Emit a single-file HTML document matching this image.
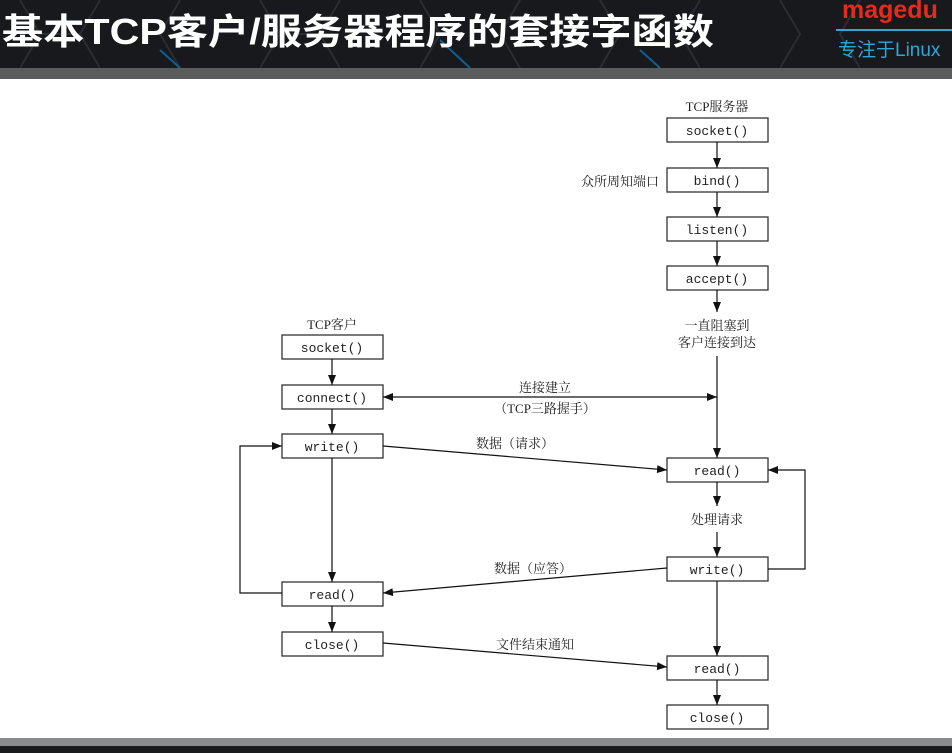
<!DOCTYPE html>
<html><head><meta charset="utf-8"><style>
html,body{margin:0;padding:0;width:952px;height:753px;overflow:hidden;background:#fff}
svg{display:block}
.m{font-family:"Liberation Mono",monospace;font-size:13px;fill:#222}
.c{font-family:"Liberation Serif","Noto Serif CJK SC",serif;font-size:13px;fill:#222}
</style></head><body>
<svg width="952" height="753" viewBox="0 0 952 753" xmlns="http://www.w3.org/2000/svg">
<defs>
<marker id="a" viewBox="0 0 10 10" refX="10" refY="5" markerWidth="10" markerHeight="10" markerUnits="userSpaceOnUse" orient="auto"><path d="M0,1 L10,5 L0,9 z" fill="#111"/></marker>
</defs>
<rect x="0" y="0" width="952" height="68" fill="#17191c"/>
<g stroke="#2a2d31" stroke-width="2" fill="none">
<path d="M20,0 L40,34 L20,68 M100,0 L80,34 L100,68 M40,34 L80,34 M180,0 L160,34 L180,68 M260,0 L280,34 L260,68 M280,34 L320,34 M340,0 L320,34 L340,68 M420,0 L440,34 L420,68 M520,0 L500,34 L520,68 M600,0 L620,34 L600,68 M700,0 L680,34 L700,68 M780,0 L800,34 L780,68 M860,0 L840,34 L860,68"/>
</g>
<g stroke="#0f5f8f" stroke-width="2" fill="none"><path d="M160,50 L180,68 M440,40 L470,68 M640,50 L660,68"/></g>
<text x="2" y="44" textLength="712" lengthAdjust="spacingAndGlyphs" font-family="'Liberation Sans','Noto Sans CJK SC',sans-serif" font-weight="bold" font-size="36" fill="#fff">基本TCP客户/服务器程序的套接字函数</text>
<text x="842" y="18" font-family="'Liberation Sans',sans-serif" font-weight="bold" font-size="25" fill="#e52a1e">magedu</text>
<rect x="836" y="29" width="116" height="2" fill="#2fa6d8"/>
<text x="838" y="56" font-family="'Liberation Sans','Noto Sans CJK SC',sans-serif" font-size="19" fill="#2fa6d8">专注于Linux</text>
<rect x="0" y="68" width="952" height="11" fill="#5a5b5d"/>
<rect x="0" y="738" width="952" height="8" fill="#8a8b8d"/>
<rect x="0" y="746" width="952" height="7" fill="#1a1b1d"/>
<g fill="#fff" stroke="#333" stroke-width="1.3">
<rect x="667" y="118" width="101" height="24"/>
<rect x="667" y="168" width="101" height="24"/>
<rect x="667" y="217" width="101" height="24"/>
<rect x="667" y="266" width="101" height="24"/>
<rect x="667" y="458" width="101" height="24"/>
<rect x="667" y="557" width="101" height="24"/>
<rect x="667" y="656" width="101" height="24"/>
<rect x="667" y="705" width="101" height="24"/>
<rect x="282" y="335" width="101" height="24"/>
<rect x="282" y="385" width="101" height="24"/>
<rect x="282" y="434" width="101" height="24"/>
<rect x="282" y="582" width="101" height="24"/>
<rect x="282" y="632" width="101" height="24"/>
</g>
<g class="m" text-anchor="middle">
<text x="717" y="135">socket()</text>
<text x="717" y="185">bind()</text>
<text x="717" y="234">listen()</text>
<text x="717" y="283">accept()</text>
<text x="717" y="475">read()</text>
<text x="717" y="574">write()</text>
<text x="717" y="673">read()</text>
<text x="717" y="722">close()</text>
<text x="332" y="352">socket()</text>
<text x="332" y="402">connect()</text>
<text x="332" y="451">write()</text>
<text x="332" y="599">read()</text>
<text x="332" y="649">close()</text>
</g>
<g class="c" text-anchor="middle">
<text x="717" y="111">TCP服务器</text>
<text x="620" y="186">众所周知端口</text>
<text x="717" y="330">一直阻塞到</text>
<text x="717" y="347">客户连接到达</text>
<text x="717" y="524">处理请求</text>
<text x="332" y="329">TCP客户</text>
<text x="545" y="392">连接建立</text>
<text x="545" y="413">（TCP三路握手）</text>
<text x="515" y="448">数据（请求）</text>
<text x="533" y="573">数据（应答）</text>
<text x="535" y="649">文件结束通知</text>
</g>
<g stroke="#111" stroke-width="1.2" fill="none" marker-end="url(#a)">
<line x1="717" y1="142" x2="717" y2="168"/>
<line x1="717" y1="192" x2="717" y2="217"/>
<line x1="717" y1="241" x2="717" y2="266"/>
<line x1="717" y1="290" x2="717" y2="312"/>
<line x1="717" y1="356" x2="717" y2="458"/>
<line x1="717" y1="482" x2="717" y2="506"/>
<line x1="717" y1="532" x2="717" y2="557"/>
<line x1="717" y1="581" x2="717" y2="656"/>
<line x1="717" y1="680" x2="717" y2="705"/>
<line x1="332" y1="359" x2="332" y2="385"/>
<line x1="332" y1="409" x2="332" y2="434"/>
<line x1="332" y1="458" x2="332" y2="582"/>
<line x1="332" y1="606" x2="332" y2="632"/>
<line x1="500" y1="397" x2="383" y2="397"/>
<line x1="500" y1="397" x2="717" y2="397"/>
<line x1="383" y1="446" x2="667" y2="470"/>
<line x1="667" y1="568" x2="383" y2="593"/>
<line x1="383" y1="643" x2="667" y2="667"/>
<polyline points="282,593 240,593 240,446 282,446"/>
<polyline points="768,569 805,569 805,470 768,470"/>
</g>
</svg>
</body></html>
